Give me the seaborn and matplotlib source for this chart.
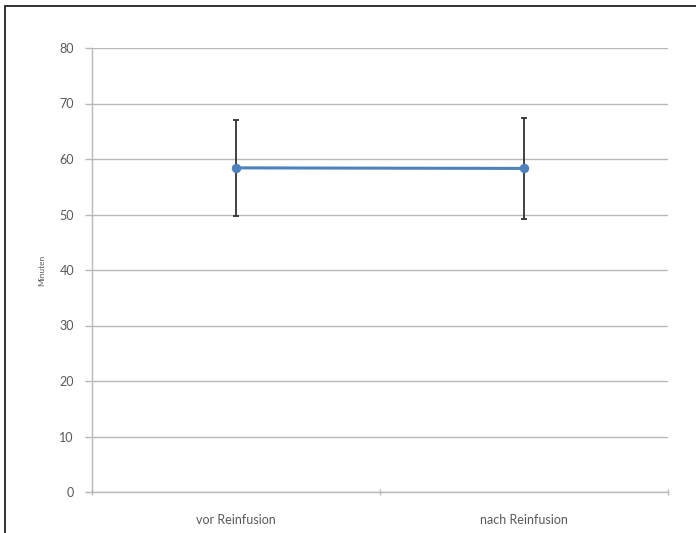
import numpy as np
import pandas as pd
import matplotlib
matplotlib.use("Agg")
import matplotlib.pyplot as plt
from matplotlib.patches import Rectangle
import seaborn as sns

# values
categories = ["vor Reinfusion", "nach Reinfusion"]
mean_minutes = [58.4, 58.3]
err_low = [49.7, 49.2]
err_high = [67.0, 67.4]
y_ticks = [0, 10, 20, 30, 40, 50, 60, 70, 80]

sns.set_theme(style="white")
plt.rcParams["font.family"] = ["Lato", "DejaVu Sans"]

text_color = "#595959"
grid_color = "#b8b8b8"

fig = plt.figure(figsize=(6.96, 5.33), dpi=100)
ax = fig.add_axes([92 / 696, 41 / 533, 576 / 696, 444 / 533])

df = pd.DataFrame({"Zeitpunkt": categories, "Minuten": mean_minutes})

# error bars first so the line and markers sit on top
x_pos = np.arange(len(categories))
means = np.array(mean_minutes)
yerr = [means - np.array(err_low), np.array(err_high) - means]
ax.errorbar(x_pos, means, yerr=yerr, fmt="none", ecolor="#333333",
            elinewidth=1.3, capsize=2, capthick=1.3, zorder=2)

sns.lineplot(data=df, x=x_pos, y="Minuten", ax=ax, color="#4F81BD",
             linewidth=2.2, marker="o", markersize=6,
             markeredgecolor="#4F81BD", zorder=3)

ax.set_xlim(-0.5, 1.5)
ax.set_ylim(0, 80)
ax.set_yticks(y_ticks)
ax.set_yticklabels([str(t) for t in y_ticks], fontsize=9, color=text_color)
ax.set_xticks(x_pos)
ax.set_xticklabels(categories, fontsize=9, color=text_color)
ax.set_xticks([-0.5, 0.5, 1.5], minor=True)
ax.tick_params(axis="x", which="major", bottom=False, length=0, pad=16)
ax.tick_params(axis="x", which="minor", bottom=True, length=5,
               width=1, color=grid_color, direction="inout")
ax.tick_params(axis="y", which="major", left=True, length=5, width=1,
               color=grid_color, direction="out", pad=8)

ax.yaxis.grid(True, color=grid_color, linewidth=1)
ax.xaxis.grid(False)
ax.set_axisbelow(True)

for side in ["top", "right"]:
    ax.spines[side].set_visible(False)
for side in ["left", "bottom"]:
    ax.spines[side].set_color(grid_color)
    ax.spines[side].set_linewidth(1)

ax.set_xlabel("")
ax.set_ylabel("Minuten", fontsize=6, color=text_color, labelpad=10)

# thin frame around the chart area, running off the right and bottom edge
frame = Rectangle((5 / 696, -0.05), 1.1, (533 - 6) / 533 + 0.05,
                  transform=fig.transFigure, fill=False,
                  edgecolor="#222222", linewidth=1.3, clip_on=False)
fig.patches.append(frame)

fig.savefig("out.png", dpi=100)
